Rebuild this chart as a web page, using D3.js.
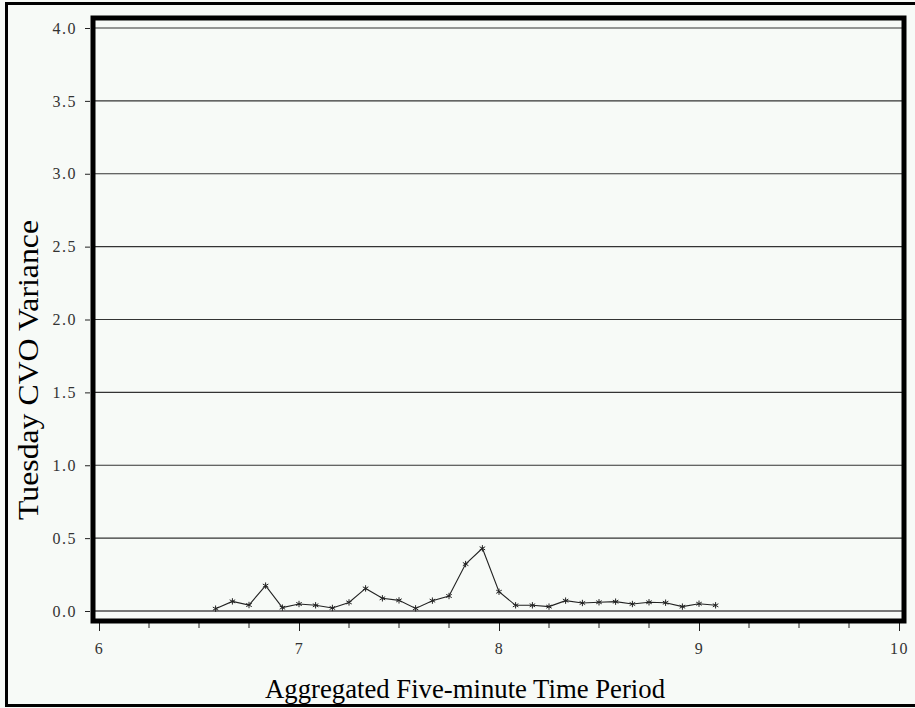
<!DOCTYPE html>
<html><head><meta charset="utf-8">
<script src="https://cdn.jsdelivr.net/npm/d3@7"></script>
<style>html,body{margin:0;padding:0;background:#f7faf7;}svg{display:block;}</style>
</head><body>
<svg id="chart" width="915" height="708"></svg>
<script>
// Data: five-minute periods (hours) and Tuesday CVO variance
const periods = [6.583,6.667,6.75,6.833,6.917,7.0,7.083,7.167,7.25,7.333,7.417,7.5,7.583,7.667,7.75,7.833,7.917,8.0,8.083,8.167,8.25,8.333,8.417,8.5,8.583,8.667,8.75,8.833,8.917,9.0,9.083];
const variance = [0.016,0.066,0.041,0.174,0.023,0.048,0.039,0.021,0.059,0.155,0.087,0.073,0.018,0.071,0.103,0.322,0.43,0.132,0.039,0.039,0.03,0.071,0.055,0.06,0.064,0.048,0.06,0.057,0.03,0.05,0.039];
const yTicks = [0,0.5,1,1.5,2,2.5,3,3.5,4];
const xMajor = [6,7,8,9,10];
const xMinor = d3.range(6,10.001,0.25);
const xTitle = "Aggregated Five-minute Time Period";
const yTitle = "Tuesday CVO Variance";

const serif = "'Liberation Serif','Times New Roman',serif";
const svg = d3.select("#chart");
svg.append("rect").attr("x",0).attr("y",0).attr("width",915).attr("height",708).attr("fill","#f7faf7");
// outer border
svg.append("rect").attr("x",6.5).attr("y",3.5).attr("width",910).attr("height",702)
  .attr("fill","none").attr("stroke","#000").attr("stroke-width",3);

const x = d3.scaleLinear().domain([6,10]).range([99,899]);
const y = d3.scaleLinear().domain([0,4]).range([611,28]);

// gridlines
svg.append("g").selectAll("line").data(yTicks).join("line")
  .attr("x1",93).attr("x2",904).attr("y1",d=>y(d)).attr("y2",d=>y(d))
  .attr("stroke",d=>d===0?"#777":"#333").attr("stroke-width",d=>d===0?2:1.2);

// y axis ticks & labels
const yAxis = d3.axisLeft(y).tickValues(yTicks).tickFormat(d3.format(".1f")).tickSize(5).tickPadding(8);
const gy = svg.append("g").attr("transform","translate(90,0)").call(yAxis);
gy.attr("font-family",serif).attr("font-size",16);
gy.select(".domain").remove();
gy.selectAll("text").style("font-family",serif).style("font-size","16px").style("letter-spacing","1.5px").attr("fill","#333");
gy.selectAll("line").attr("stroke","#222");

// x axis major
const xAxis = d3.axisBottom(x).tickValues(xMajor).tickFormat(d3.format("d")).tickSize(8).tickPadding(12);
const gx = svg.append("g").attr("transform","translate(0,623)").call(xAxis);
gx.attr("font-family",serif).attr("font-size",16);
gx.select(".domain").remove();
gx.selectAll("text").style("font-family",serif).style("font-size","16px").style("letter-spacing","1.5px").attr("fill","#333");
gx.selectAll("line").attr("stroke","#222");
// minor ticks
svg.append("g").selectAll("line").data(xMinor.filter(v=>Math.abs(v-Math.round(v))>1e-6)).join("line")
  .attr("x1",d=>x(d)).attr("x2",d=>x(d)).attr("y1",623).attr("y2",628).attr("stroke","#222");

// frame
svg.append("rect").attr("x",93).attr("y",18).attr("width",811).attr("height",603)
  .attr("fill","none").attr("stroke","#000").attr("stroke-width",5);

// line
const pts = periods.map((p,i)=>[p,variance[i]]);
svg.append("path").datum(pts)
  .attr("d",d3.line().x(d=>x(d[0])).y(d=>y(d[1])))
  .attr("fill","none").attr("stroke","#222").attr("stroke-width",1.1);
// asterisk markers
svg.append("g").selectAll("path").data(pts).join("path")
  .attr("transform",d=>`translate(${x(d[0])},${y(d[1])})`)
  .attr("d",d3.symbol(d3.symbolAsterisk,28))
  .attr("fill","none").attr("stroke","#222").attr("stroke-width",1);

// titles
svg.append("text").attr("x",465).attr("y",698).attr("text-anchor","middle")
  .attr("font-family",serif).attr("font-size",28).attr("fill","#000")
  .attr("textLength",400).attr("lengthAdjust","spacingAndGlyphs").text(xTitle);
svg.append("text").attr("transform","translate(38,370) rotate(-90)").attr("text-anchor","middle")
  .attr("font-family",serif).attr("font-size",30).attr("fill","#000")
  .attr("textLength",300).attr("lengthAdjust","spacingAndGlyphs").text(yTitle);
</script>
</body></html>
